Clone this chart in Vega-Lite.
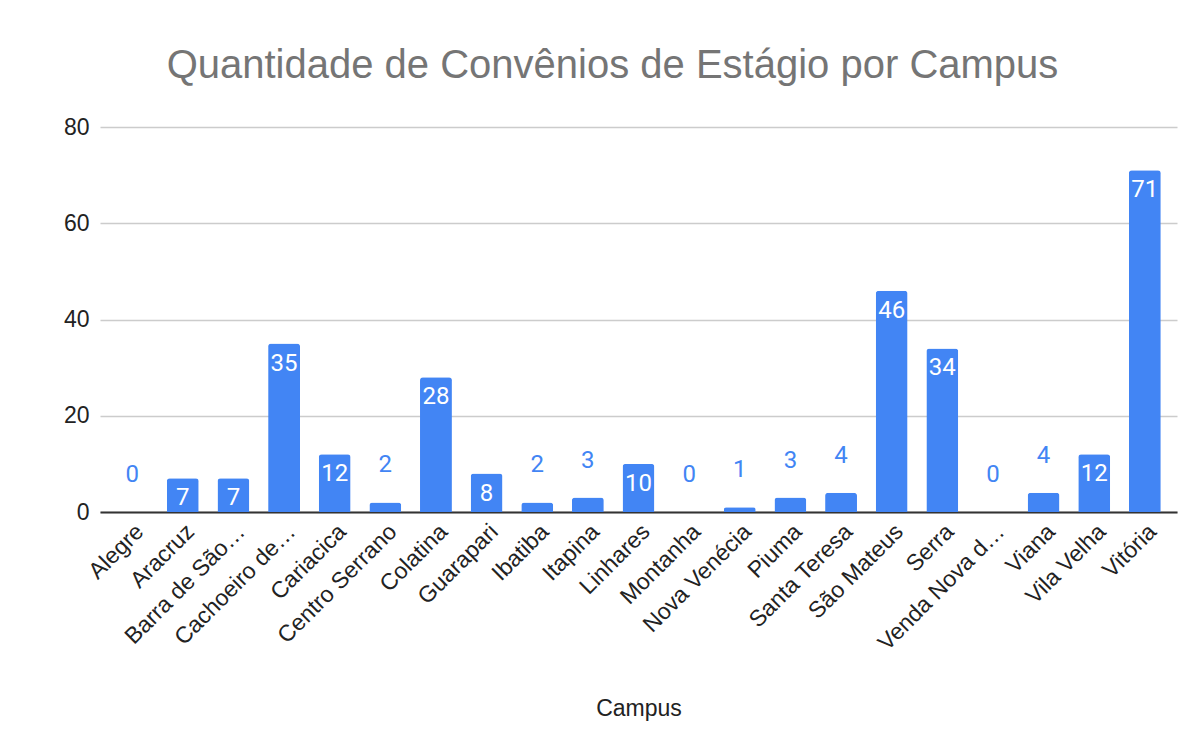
{
  "$schema": "https://vega.github.io/schema/vega-lite/v6.json",
  "autosize": {"type": "none"},
  "width": 1077,
  "height": 385,
  "padding": {"left": 100, "top": 127, "right": 26, "bottom": 239},
  "background": "white",
  "config": {"view": {"stroke": null}},
  "title": {
    "text": "Quantidade de Convênios de Estágio por Campus",
    "font": "Liberation Sans",
    "fontSize": 40,
    "fontWeight": "normal",
    "color": "#757575",
    "anchor": "middle",
    "dx": -26,
    "offset": 30
  },
  "data": {
    "values": [
      {"campus": "Alegre", "v": 0},
      {"campus": "Aracruz", "v": 7},
      {"campus": "Barra de São…", "v": 7},
      {"campus": "Cachoeiro de…", "v": 35},
      {"campus": "Cariacica", "v": 12},
      {"campus": "Centro Serrano", "v": 2},
      {"campus": "Colatina", "v": 28},
      {"campus": "Guarapari", "v": 8},
      {"campus": "Ibatiba", "v": 2},
      {"campus": "Itapina", "v": 3},
      {"campus": "Linhares", "v": 10},
      {"campus": "Montanha", "v": 0},
      {"campus": "Nova Venécia", "v": 1},
      {"campus": "Piuma", "v": 3},
      {"campus": "Santa Teresa", "v": 4},
      {"campus": "São Mateus", "v": 46},
      {"campus": "Serra", "v": 34},
      {"campus": "Venda Nova d…", "v": 0},
      {"campus": "Viana", "v": 4},
      {"campus": "Vila Velha", "v": 12},
      {"campus": "Vitória", "v": 71}
    ]
  },
  "encoding": {
    "x": {
      "field": "campus",
      "type": "nominal",
      "sort": null,
      "scale": {"paddingInner": 0.37, "paddingOuter": 0.32},
      "axis": {
        "title": "Campus",
        "titleFont": "Liberation Sans",
        "titleFontSize": 23,
        "titleFontWeight": "normal",
        "titleColor": "#222222",
        "titleBaseline": "middle",
        "titleY": 196,
        "labelAngle": -45,
        "labelFont": "Liberation Sans",
        "labelFontSize": 23,
        "labelColor": "#222222",
        "labelPadding": 8,
        "labelLimit": 300,
        "ticks": false,
        "domainColor": "#333333",
        "domainWidth": 2,
        "grid": false
      }
    },
    "y": {
      "field": "v",
      "type": "quantitative",
      "scale": {"domain": [0, 80]},
      "axis": {
        "title": null,
        "values": [0, 20, 40, 60, 80],
        "labelFont": "Liberation Sans",
        "labelFontSize": 23,
        "labelColor": "#222222",
        "labelPadding": 11,
        "ticks": false,
        "domain": false,
        "gridColor": "#cccccc",
        "gridWidth": 1.5
      }
    }
  },
  "layer": [
    {
      "mark": {"type": "bar", "color": "#4285F4", "cornerRadiusTopLeft": 3, "cornerRadiusTopRight": 3}
    },
    {
      "transform": [{"filter": "datum.v >= 7"}],
      "mark": {"type": "text", "color": "white", "font": "Roboto", "fontSize": 24, "baseline": "alphabetic", "dy": 27},
      "encoding": {"text": {"field": "v", "type": "quantitative"}}
    },
    {
      "transform": [{"filter": "datum.v < 7"}],
      "mark": {"type": "text", "color": "#4285F4", "font": "Roboto", "fontSize": 24, "baseline": "alphabetic", "dy": -30},
      "encoding": {"text": {"field": "v", "type": "quantitative"}}
    }
  ]
}
